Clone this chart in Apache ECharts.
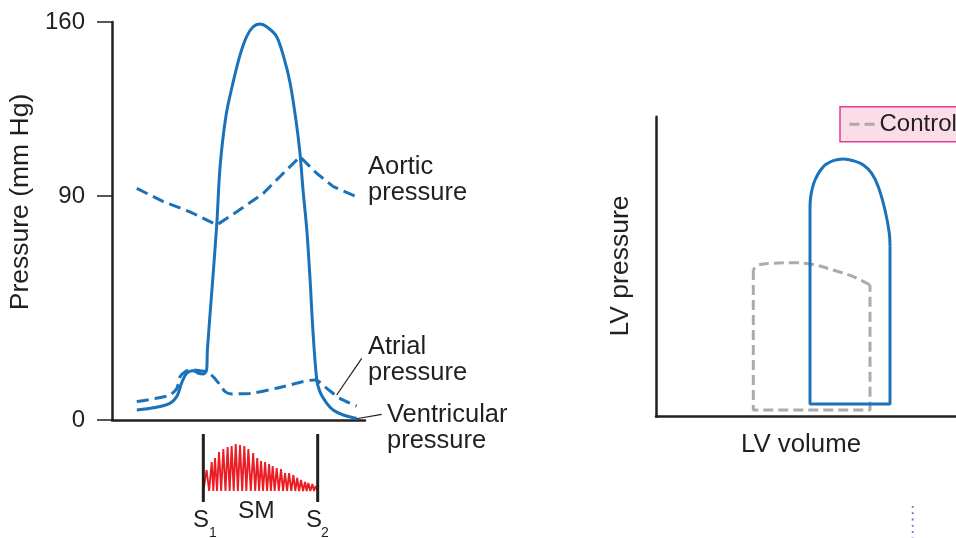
<!DOCTYPE html>
<html>
<head>
<meta charset="utf-8">
<script src="https://cdn.jsdelivr.net/npm/echarts@6/dist/echarts.min.js"></script>
<style>
html,body{margin:0;padding:0;background:#fff;}
#chart{width:956px;height:538px;}
</style>
</head>
<body>
<div id="chart"></div>
<script>
// ---------- data (left panel: pressure vs time, time axis 0..100 arbitrary units) ----------
const yTickValues = [0, 90, 160];

const ventT = [9.8, 17, 22.9, 25.6, 27.5, 29.5, 32.1, 34.1, 36.1, 37.4, 37.7, 39.5, 41.4, 42.7, 45.1, 47.8, 50.6, 53.2, 55.7, 58.5, 61.3, 65.1, 68, 70.4, 72.7, 74.3, 75.5, 77, 78.3, 79.4, 80.9, 82.2, 84.9, 87.4, 91.4, 96.7];
const ventP = [4, 5, 6.7, 9.4, 14.8, 18.8, 19.8, 18.8, 18.5, 20.1, 28.1, 52.3, 78.4, 101.7, 122.6, 135.5, 146.7, 154.1, 158, 159.2, 158, 154.1, 145.5, 135.5, 120.6, 107.3, 92.5, 76.4, 56.3, 36.2, 16.5, 11.3, 6.7, 4.0, 2.0, 0.6];

const aortT = [9.8, 20.3, 30.8, 41.4, 49.3, 59.8, 67.7, 74.3, 80.9, 87.5, 96.0];
const aortP = [93.1, 87.8, 83.7, 78.4, 83.7, 91.1, 99.2, 105.8, 99.2, 93.8, 90.1];

const atrT = [9.8, 17, 22.9, 25.6, 26.9, 28.9, 31.5, 34.8, 37.4, 40.0, 42.7, 44.7, 47.3, 54.5, 66.4, 80.2, 84.9, 90.1, 96.7];
const atrP = [7.4, 8.6, 10.1, 12.7, 17.4, 19.4, 20.1, 19.8, 19.4, 17.4, 14.1, 11.4, 10.5, 10.7, 13.1, 16.1, 12.7, 8.7, 5.6];

// heart sounds and systolic murmur (peaks of the murmur trace)
const soundT = [36.1, 81.3];
const soundLabels = ['1', '2'];
const murmurBase = 0;
const murmurT = [37.4, 39.4, 40.7, 42.3, 44.0, 45.7, 47.3, 48.9, 50.6, 52.3, 53.9, 55.8, 57.4, 58.9, 60.5, 62.1, 63.5, 65.1, 66.8, 68.4, 70.0, 71.7, 73.2, 74.7, 76.3, 77.6, 79.2, 80.5];
const murmurAmp = [21, 29, 33, 39, 42, 44, 45, 47, 46, 45, 42, 38, 33, 30, 29, 27, 25, 23, 22, 18, 18, 16, 13, 11, 9, 8, 7, 5];

// ---------- data (right panel: LV pressure-volume loops) ----------
const loopV = [77, 77, 117, 117];
const loopP = [100.9, 6.35, 6.35, 85];
const loopTopV = [117, 116.65, 114.5, 111.15, 107.85, 103.65, 98.65, 93.65, 88.65, 83.65, 79.5, 77.35, 77, 77];
const loopTopP = [85, 91.7, 103.35, 115, 121.7, 125.85, 128, 128.85, 128, 125, 118.35, 110, 104, 100.9];

const ctrlV = [48.65, 48.65, 107, 107];
const ctrlP = [73.35, 3.35, 3.35, 65.85];
const ctrlTopV = [107, 98.65, 88.65, 77, 67, 58.65, 51.15, 48.65];
const ctrlTopP = [65.85, 70, 73.35, 76.35, 77, 76.7, 75.85, 73.35];

// ---------- helpers ----------
const zip = (a, b) => a.map((v, i) => [v, b[i]]);
const FONT = '"Liberation Sans", Arial, Helvetica, sans-serif';
const INK = '#231f20';
const BLUE = '#1a73ba';
const GRAY = '#a9abae';

const murmurData = [[soundT[0], murmurBase]];
murmurT.forEach((t, i) => {
  if (i > 0) murmurData.push([(murmurT[i - 1] + t) / 2, murmurBase]);
  murmurData.push([t, murmurAmp[i]]);
});
murmurData.push([soundT[1], murmurBase]);

const chart = echarts.init(document.getElementById('chart'), null, {renderer: 'canvas'});

const axisLineStyle = {color: INK, width: 2.5};

const option = {
  animation: false,
  backgroundColor: '#ffffff',
  textStyle: {fontFamily: FONT},
  grid: [
    {left: 112, top: 22, width: 253, height: 398},
    {left: 656, top: 116.7, width: 300, height: 300},
    {left: 112, top: 431, width: 253, height: 72}
  ],
  xAxis: [
    {gridIndex: 0, type: 'value', min: 0, max: 100,
     axisLine: {show: true, lineStyle: axisLineStyle}, axisTick: {show: false},
     axisLabel: {show: false}, splitLine: {show: false}},
    {gridIndex: 1, type: 'value', min: 0, max: 150,
     axisLine: {show: true, lineStyle: axisLineStyle}, axisTick: {show: false},
     axisLabel: {show: false}, splitLine: {show: false}},
    {gridIndex: 2, type: 'value', min: 0, max: 100, show: false}
  ],
  yAxis: [
    {gridIndex: 0, type: 'value', min: 0, max: 160,
     axisLine: {show: true, lineStyle: axisLineStyle},
     axisTick: {show: true, length: 15, customValues: yTickValues, lineStyle: {color: INK, width: 1.5}},
     axisLabel: {show: true, customValues: yTickValues, margin: 27, fontSize: 24, color: INK, fontFamily: FONT},
     splitLine: {show: false}},
    {gridIndex: 1, type: 'value', min: 0, max: 150,
     axisLine: {show: true, lineStyle: axisLineStyle}, axisTick: {show: false},
     axisLabel: {show: false}, splitLine: {show: false}},
    {gridIndex: 2, type: 'value', min: -12, max: 60, show: false}
  ],
  legend: {
    data: ['Control'],
    left: 840, top: 106.7,
    padding: [5, 12, 5, 8],
    backgroundColor: '#fbdde8',
    borderColor: '#e8399a',
    borderWidth: 1.5,
    borderRadius: 0,
    itemWidth: 25, itemHeight: 14,
    itemStyle: {color: 'rgba(0,0,0,0)', borderColor: 'rgba(0,0,0,0)', borderWidth: 0, opacity: 0},
    lineStyle: {color: GRAY, width: 3, type: [10, 5]},
    textStyle: {fontSize: 24, color: INK, fontFamily: FONT, lineHeight: 25},
    selectedMode: false
  },
  series: [
    {type: 'line', name: 'Ventricular pressure', xAxisIndex: 0, yAxisIndex: 0,
     data: zip(ventT, ventP), symbol: 'none', smooth: 0.3,
     lineStyle: {color: BLUE, width: 3}},
    {type: 'line', name: 'Aortic pressure', xAxisIndex: 0, yAxisIndex: 0,
     data: zip(aortT, aortP), symbol: 'none', smooth: false,
     lineStyle: {color: BLUE, width: 3, type: [12, 6]}},
    {type: 'line', name: 'Atrial pressure', xAxisIndex: 0, yAxisIndex: 0,
     data: zip(atrT, atrP), symbol: 'none', smooth: 0.3,
     lineStyle: {color: BLUE, width: 3, type: [12, 6]}},
    {type: 'line', name: 'Murmur', xAxisIndex: 2, yAxisIndex: 2,
     data: murmurData, symbol: 'none', smooth: false,
     lineStyle: {color: '#ec1c24', width: 1.9}},
    {type: 'line', name: 'S1', xAxisIndex: 2, yAxisIndex: 2,
     data: [[soundT[0], -11], [soundT[0], 57]], symbol: 'none',
     lineStyle: {color: INK, width: 3}},
    {type: 'line', name: 'S2', xAxisIndex: 2, yAxisIndex: 2,
     data: [[soundT[1], -11], [soundT[1], 57]], symbol: 'none',
     lineStyle: {color: INK, width: 3}},
    {type: 'line', name: 'Control', xAxisIndex: 1, yAxisIndex: 1,
     data: zip(ctrlV, ctrlP), symbol: 'none', smooth: false,
     lineStyle: {color: GRAY, width: 3, type: [10, 5]}, itemStyle: {color: GRAY}},
    {type: 'line', name: 'Control', xAxisIndex: 1, yAxisIndex: 1,
     data: zip(ctrlTopV, ctrlTopP), symbol: 'none', smooth: 0.4,
     lineStyle: {color: GRAY, width: 3, type: [10, 5]}, itemStyle: {color: GRAY}},
    {type: 'line', name: 'Loop', xAxisIndex: 1, yAxisIndex: 1,
     data: zip(loopV, loopP), symbol: 'none', smooth: false,
     lineStyle: {color: BLUE, width: 3}},
    {type: 'line', name: 'Loop', xAxisIndex: 1, yAxisIndex: 1,
     data: zip(loopTopV, loopTopP), symbol: 'none', smooth: 0.4,
     lineStyle: {color: BLUE, width: 3}}
  ],
  graphic: [
    {type: 'text', x: 21, y: 202, rotation: Math.PI / 2,
     style: {text: 'Pressure (mm Hg)', font: '26.5px ' + FONT, fill: INK, align: 'center', verticalAlign: 'middle'}},
    {type: 'text', x: 368, y: 180,
     style: {text: 'Aortic\npressure', font: '25.5px ' + FONT, fill: INK, align: 'left', verticalAlign: 'middle', lineHeight: 26}},
    {type: 'text', x: 368, y: 359.5,
     style: {text: 'Atrial\npressure', font: '25.5px ' + FONT, fill: INK, align: 'left', verticalAlign: 'middle', lineHeight: 26}},
    {type: 'text', x: 387, y: 428,
     style: {text: 'Ventricular\npressure', font: '25.5px ' + FONT, fill: INK, align: 'left', verticalAlign: 'middle', lineHeight: 26}},
    {type: 'line', shape: {x1: 361.7, y1: 358.3, x2: 336.7, y2: 395}, style: {stroke: INK, lineWidth: 1.2}},
    {type: 'line', shape: {x1: 381.7, y1: 414.3, x2: 355, y2: 419}, style: {stroke: INK, lineWidth: 1.2}},
    {type: 'text', x: 193, y: 520,
     style: {text: 'S', font: '24px ' + FONT, fill: INK, align: 'left', verticalAlign: 'middle'}},
    {type: 'text', x: 209, y: 533.5,
     style: {text: soundLabels[0], font: '14px ' + FONT, fill: INK, align: 'left', verticalAlign: 'middle'}},
    {type: 'text', x: 306, y: 520,
     style: {text: 'S', font: '24px ' + FONT, fill: INK, align: 'left', verticalAlign: 'middle'}},
    {type: 'text', x: 321, y: 533.5,
     style: {text: soundLabels[1], font: '14px ' + FONT, fill: INK, align: 'left', verticalAlign: 'middle'}},
    {type: 'text', x: 238, y: 511.5,
     style: {text: 'SM', font: '24.5px ' + FONT, fill: INK, align: 'left', verticalAlign: 'middle'}},
    {type: 'text', x: 621, y: 266, rotation: Math.PI / 2,
     style: {text: 'LV pressure', font: '26.5px ' + FONT, fill: INK, align: 'center', verticalAlign: 'middle'}},
    {type: 'text', x: 801, y: 445.3,
     style: {text: 'LV volume', font: '25.8px ' + FONT, fill: INK, align: 'center', verticalAlign: 'middle'}},
    {type: 'line', shape: {x1: 912.7, y1: 506, x2: 912.7, y2: 538},
     style: {stroke: '#5b6fd0', lineWidth: 1.8, lineDash: [1.8, 4.5]}}
  ]
};
chart.setOption(option);
</script>
</body>
</html>
